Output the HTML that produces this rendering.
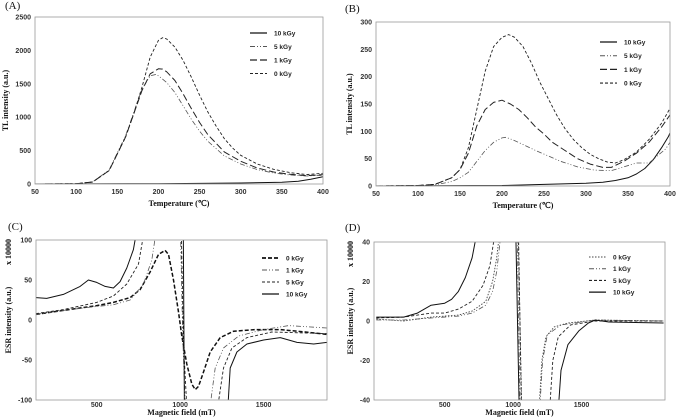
<!DOCTYPE html>
<html><head><meta charset="utf-8">
<style>
html,body{margin:0;padding:0;background:#fff;}
svg{display:block;font-family:"Liberation Sans",sans-serif;}
.tk{font-size:7px;font-weight:bold;fill:#333;}
.ttl{font-family:"Liberation Serif",serif;font-weight:bold;font-size:8px;fill:#111;}
.pl{font-family:"Liberation Serif",serif;font-size:11px;fill:#111;}
.lg{font-size:6.5px;font-weight:bold;fill:#222;}
</style></head>
<body>
<svg id="fig" width="677" height="419" viewBox="0 0 677 419"></svg>
<script>
// ---- Panel A data (temperature, TL intensity) ----
const aTicksX = [50,100,150,200,250,300,350,400];
const aTicksY = [0,500,1000,1500,2000,2500];
const a0 = [[50,0],[100,5],[120,30],[140,200],[160,700],[170,1050],[180,1450],[190,1900],[200,2150],[205,2190],[210,2170],[220,2050],[230,1850],[240,1600],[250,1330],[260,1080],[270,870],[280,680],[290,540],[300,430],[320,300],[340,220],[360,170],[380,140],[400,160]];
const a1 = [[50,0],[100,5],[120,30],[140,200],[160,700],[180,1400],[190,1650],[200,1725],[205,1720],[210,1680],[220,1550],[230,1350],[240,1130],[250,920],[260,740],[280,480],[300,340],[320,240],[340,180],[360,145],[380,125],[400,140]];
const a5 = [[50,0],[100,5],[120,30],[140,210],[160,720],[180,1420],[190,1620],[197,1640],[200,1620],[210,1520],[220,1370],[230,1170],[240,970],[250,790],[260,640],[280,420],[300,300],[320,215],[340,165],[360,135],[380,120],[400,130]];
const a10 = [[50,0],[200,5],[300,15],[350,25],[370,40],[385,70],[400,110]];
// ---- Panel B data ----
const bTicksX = [50,100,150,200,250,300,350,400];
const bTicksY = [0,50,100,150,200,250,300];
const b0 = [[50,0],[100,1],[120,3],[140,15],[150,30],[160,70],[170,140],[180,210],[190,255],[200,272],[208,277],[215,272],[225,255],[235,225],[245,190],[255,160],[265,130],[275,105],[285,85],[295,70],[305,58],[315,50],[325,44],[335,42],[345,48],[360,62],[375,85],[390,115],[400,142]];
const b1 = [[50,0],[100,1],[120,3],[140,15],[150,30],[160,60],[170,110],[180,140],[190,153],[200,157],[210,150],[220,140],[230,125],[240,108],[250,95],[260,80],[275,65],[290,50],[305,40],[320,34],[330,34],[345,45],[360,60],[375,80],[390,108],[400,130]];
const b5 = [[50,0],[100,1],[120,2],[140,8],[150,15],[160,25],[170,45],[180,65],[190,80],[200,88],[205,89],[215,83],[225,76],[240,65],[255,55],[270,45],[290,35],[310,29],[330,28],[345,35],[360,42],[375,42],[385,55],[395,68],[400,80]];
const b10 = [[50,0],[200,1],[250,3],[300,5],[320,7],[335,10],[350,15],[360,22],[370,32],[380,48],[390,70],[398,90],[400,97]];
// ---- Panel C data (field, ESR) ----
const cTicksX = [500,1000,1500];
const cTicksY = [-100,-50,0,50,100];
const c0 = [[136,7],[300,12],[500,18],[600,22],[700,28],[760,38],[820,60],[870,82],[910,87],[930,82],[960,50],[990,10],[1010,-20],[1040,-55],[1070,-80],[1090,-87],[1110,-83],[1140,-65],[1180,-40],[1240,-22],[1320,-14],[1450,-12],[1600,-12],[1750,-15],[1880,-18]];
const c1 = [[136,7],[300,12],[500,17],[600,19],[700,25],[780,45],[830,75],[870,130],null,[1000,130],[1015,-20],[1035,-130],null,[1165,-130],[1210,-60],[1260,-35],[1350,-20],[1500,-12],[1650,-7],[1880,-10]];
const c5 = [[136,8],[300,13],[500,22],[600,30],[680,45],[750,70],[800,130],null,[1005,130],[1020,-30],[1045,-130],null,[1210,-130],[1260,-60],[1310,-35],[1400,-22],[1550,-15],[1880,-17]];
const c10 = [[136,28],[200,27],[300,32],[400,42],[450,50],[500,47],[550,42],[600,40],[640,48],[680,65],[720,88],[755,130],null,[1018,130],[1026,-130],null,[1280,-130],[1300,-60],[1340,-40],[1400,-30],[1500,-25],[1600,-22],[1700,-28],[1800,-30],[1880,-28]];
// ---- Panel D data ----
const dTicksX = [500,1000,1500];
const dTicksY = [-40,-20,0,20,40];
const d0 = [[0,1],[200,0],[400,2],[600,3],[700,5],[800,10],[850,20],[880,32],[910,50],null,[1035,50],[1065,-50],null,[1185,-50],[1210,-20],[1240,-8],[1300,-3],[1400,-1],[1600,0.5],[2100,0]];
const d1 = [[0,0.5],[200,0.5],[400,1.5],[600,2.5],[700,4],[800,8],[850,15],[880,25],[920,50],null,[1028,50],[1052,-50],null,[1190,-50],[1215,-20],[1250,-7],[1350,-2],[1600,0.5],[2100,0]];
const d5 = [[0,1.5],[200,2],[400,4],[500,4],[600,6],[700,10],[780,18],[830,28],[880,50],null,[1038,50],[1062,-50],null,[1262,-50],[1290,-20],[1330,-8],[1420,-2],[1600,0],[2100,0]];
const d10 = [[0,2],[200,2],[300,4],[400,8],[500,9],[550,11],[600,15],[650,22],[700,32],[750,50],null,[1018,50],[1046,-50],null,[1325,-50],[1350,-25],[1400,-12],[1480,-5],[1550,-1],[1600,0.5],[1700,-0.5],[2100,-1]];

const NS='http://www.w3.org/2000/svg';
const svg=document.getElementById('fig');
function mk(tag,attrs,parent){const e=document.createElementNS(NS,tag);for(const k in attrs)e.setAttribute(k,attrs[k]);(parent||svg).appendChild(e);return e;}

const styles={
 solid:{dash:'',w:1,c:'#111'},
 dashdot:{dash:'5,2,1,2,1,2',w:0.8,c:'#555'},
 longdash:{dash:'7,3',w:1,c:'#222'},
 dash:{dash:'3,2',w:0.9,c:'#222'},
 thickdash:{dash:'4,2',w:1.5,c:'#111'},
 dot:{dash:'1.5,1.5',w:0.9,c:'#444'}
};

function panel(p){
 const g=mk('g',{});
 
 
 const sx=v=>p.x0+(v-p.xmin)/(p.xmax-p.xmin)*(p.x1-p.x0);
 const sy=v=>p.y1-(v-p.ymin)/(p.ymax-p.ymin)*(p.y1-p.y0);
 const lab=mk('text',{x:p.lx,y:p.ly,class:'pl'},g);lab.textContent=p.label;
 
 const cid='clip-'+p.id;
 const cp=mk('clipPath',{id:cid},g);mk('rect',{x:p.x0,y:p.y0,width:p.x1-p.x0,height:p.y1-p.y0},cp);
 p.series.forEach(s=>{
  let d='',pen=false;
  s.data.forEach(pt=>{if(!pt){pen=false;return;}d+=(pen?'L':'M')+sx(pt[0]).toFixed(1)+','+sy(pt[1]).toFixed(1);pen=true;});
  const st=styles[s.style];
  const path=mk('path',{d:d,fill:'none',stroke:st.c,'stroke-width':st.w,'stroke-dasharray':st.dash,'clip-path':'url(#'+cid+')','stroke-linejoin':'round'},g);
  
  
 });
 const fr=mk('rect',{x:p.x0,y:p.y0,width:p.x1-p.x0,height:p.y1-p.y0,fill:'none',stroke:'#999','stroke-width':0.8},g);
 
 p.tx.forEach(v=>{const t=mk('text',{x:sx(v),y:p.y1+p.tko,class:'tk','text-anchor':'middle'},g);t.textContent=v;
  });
 p.ty.forEach(v=>{const t=mk('text',{x:p.x0-4,y:sy(v)+2.5,class:'tk','text-anchor':'end'},g);t.textContent=v;
  });
 const xt=mk('text',{x:(p.x0+p.x1)/2,y:p.y1+p.tto,class:'ttl','text-anchor':'middle'},g);xt.textContent=p.xtitle;
 
 const yc=(p.y0+p.y1)/2;
 const yt=mk('text',{x:p.ytx,y:yc,class:'ttl','text-anchor':'middle',transform:'rotate(-90 '+p.ytx+' '+yc+')'},g);yt.textContent=p.ytitle;
 
 if(p.mult){const m=mk('text',{x:p.ytx,y:p.y0+12,class:'ttl','font-size':'6.5','text-anchor':'middle',transform:'rotate(-90 '+p.ytx+' '+(p.y0+12)+')'},g);m.textContent=p.mult;
  }
 p.legend.forEach((s,i)=>{const y=p.lgy+i*p.lgdy;const st=styles[s.style];
  const lg=mk('g',{},g);
  mk('line',{x1:p.lgx,x2:p.lgx+17,y1:y,y2:y,stroke:st.c,'stroke-width':st.w+0.2,'stroke-dasharray':st.dash},lg);
  const t=mk('text',{x:p.lgx+24,y:y+2.5,class:'lg'},lg);t.textContent=s.name;});
}

const sa=[{name:'10 kGy',data:a10,style:'solid'},{name:'5 kGy',data:a5,style:'dashdot'},{name:'1 kGy',data:a1,style:'longdash'},{name:'0 kGy',data:a0,style:'dash'}];
panel({id:'a',label:'(A)',lx:5,ly:9,x0:35,x1:323,y0:17,y1:184,xmin:50,xmax:400,ymin:0,ymax:2500,tx:aTicksX,ty:aTicksY,tko:10,tto:22,
 xtitle:'Temperature (℃)',ytitle:'TL intensity (a.u.)',ytx:8,series:sa,legend:sa,lgx:250,lgy:33,lgdy:13.5});
const sb=[{name:'10 kGy',data:b10,style:'solid'},{name:'5 kGy',data:b5,style:'dashdot'},{name:'1 kGy',data:b1,style:'longdash'},{name:'0 kGy',data:b0,style:'dash'}];
panel({id:'b',label:'(B)',lx:345,ly:12,x0:376,x1:670,y0:22,y1:186,xmin:50,xmax:400,ymin:0,ymax:300,tx:bTicksX,ty:bTicksY,tko:10,tto:22,
 xtitle:'Temperature (℃)',ytitle:'TL intensity (a.u.)',ytx:352,series:sb,legend:sb,lgx:600,lgy:42,lgdy:13.7});
const sc=[{name:'0 kGy',data:c0,style:'thickdash'},{name:'1 kGy',data:c1,style:'dashdot'},{name:'5 kGy',data:c5,style:'dash'},{name:'10 kGy',data:c10,style:'solid'}];
panel({id:'c',label:'(C)',lx:8,ly:230,x0:36,x1:327,y0:240,y1:400,xmin:136,xmax:1880,ymin:-100,ymax:100,tx:cTicksX,ty:cTicksY,tko:7,tto:15,
 xtitle:'Magnetic field (mT)',ytitle:'ESR intensity (a.u.)',ytx:11,mult:'x 10000',series:sc,legend:sc,lgx:262,lgy:258,lgdy:12});
const sd=[{name:'0 kGy',data:d0,style:'dot'},{name:'1 kGy',data:d1,style:'dashdot'},{name:'5 kGy',data:d5,style:'dash'},{name:'10 kGy',data:d10,style:'solid'}];
panel({id:'d',label:'(D)',lx:345,ly:231,x0:374,x1:665,y0:242,y1:400,xmin:-17,xmax:2110,ymin:-40,ymax:40,tx:dTicksX,ty:dTicksY,tko:7,tto:15,
 xtitle:'Magnetic field (mT)',ytitle:'ESR intensity (a.u.)',ytx:353,mult:'x 10000',series:sd,legend:sd,lgx:589,lgy:257,lgdy:11.7});
</script>
</body></html>
